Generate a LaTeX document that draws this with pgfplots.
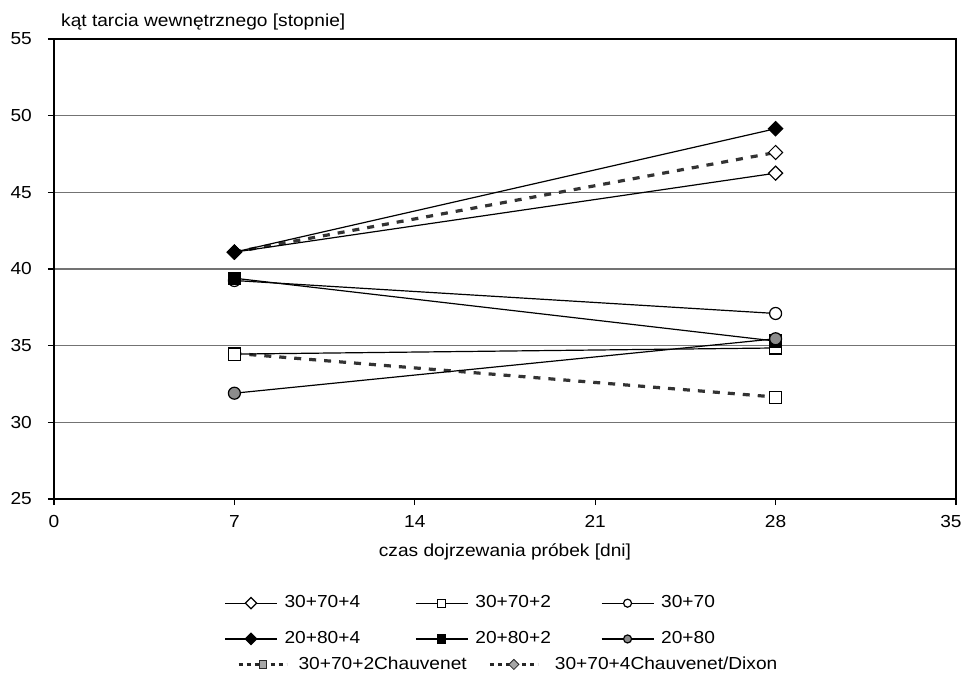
\documentclass[border=0pt]{standalone}
\usepackage{fontspec}
\setmainfont{Liberation Sans}[FakeStretch=1.1]
\usepackage{pgfplots}
\pgfplotsset{compat=1.18}
\begin{document}
\fontsize{8.7pt}{10.4pt}\selectfont
\begin{tikzpicture}
\useasboundingbox (-27pt,-88.5pt) rectangle (455pt,249.5pt);
\begin{axis}[
 scale only axis, width=451pt, height=230pt,
 at={(0pt,0pt)}, anchor=south west,
 xmin=0,xmax=35,ymin=25,ymax=55,
 xtick={0,7,14,21,28,35}, ytick={25,30,35,40,45,50,55},
 xticklabels={0,7,14,21,28,\hspace*{-5pt}35},
 xtick pos=bottom, ytick pos=left,
 tick align=outside, major tick length=3pt,
 tick style={black, line width=0.6pt},
 ymajorgrids, grid style={black!55, line width=0.7pt},
 axis line style={black, line width=0.8pt},
 font=\fontsize{8.7pt}{10.4pt}\selectfont,
 /pgf/number format/assume math mode=true,
 yticklabel style={xshift=-5pt},
 xticklabel style={yshift=-2pt},
 title={kąt tarcia wewnętrznego [stopnie]},
 title style={at={(rel axis cs:0,1)}, anchor=base west, xshift=0.5pt, yshift=0.2pt},
 xlabel={czas dojrzewania próbek [dni]},
 xlabel style={at={(rel axis cs:0.5,0)}, anchor=north, yshift=-19pt},
 legend columns=3,
 legend cell align=left,
 legend style={at={(rel axis cs:0,0)}, anchor=north west, xshift=82pt, yshift=-44.2pt,
   draw=none, fill=none, row sep=6.5pt,
   /tikz/every odd column/.append style={column sep=1.5pt},
   /tikz/every even column/.append style={column sep=20pt}},
 legend image code/.code={\draw[#1, mark size=2pt, mark repeat=2, mark phase=2] plot coordinates {(0pt,0pt) (13pt,0pt) (26pt,0pt)};},
 every axis plot/.append style={black, line width=0.6pt, mark size=3pt, mark options={solid, line width=0.5pt}},
]
\addplot[black!80, line width=1.6pt, dash pattern=on 3.5pt off 4pt, mark=square*, mark options={solid, draw=black, fill=white, line width=0.5pt}, forget plot] coordinates {(7,34.5) (28,31.65)};
\addplot[black!80, line width=1.6pt, dash pattern=on 3.5pt off 4pt, mark=square*, mark size=2.5pt, mark options={solid, draw=black, fill=white, line width=0.5pt, rotate=45}, forget plot] coordinates {(7,41.1) (28,47.6)};
\addplot[mark=square*, mark size=2.5pt, mark options={fill=white, rotate=45}] coordinates {(7,41.1) (28,46.25)};
\addlegendentry{30+70+4\hspace*{5.5pt}}
\addplot[mark=square*, mark options={fill=white}] coordinates {(7,34.45) (28,34.85)};
\addlegendentry{30+70+2\hspace*{3pt}}
\addplot[mark=*, mark options={fill=white}] coordinates {(7,39.25) (28,37.1)};
\addlegendentry{30+70}
\addplot[mark=square*, mark size=2.5pt, mark options={fill=black, rotate=45}] coordinates {(7,41.1) (28,49.15)};
\addlegendentry{20+80+4}
\addplot[mark=square*, mark options={fill=black}] coordinates {(7,39.4) (28,35.3)};
\addlegendentry{20+80+2}
\addplot[mark=*, mark options={fill=black!45}] coordinates {(7,31.9) (28,35.45)};
\addlegendentry{20+80}
\end{axis}
\begin{axis}[
 scale only axis, width=451pt, height=230pt,
 at={(0pt,0pt)}, anchor=south west,
 hide axis, xmin=0,xmax=1,ymin=0,ymax=1,
 font=\fontsize{8.7pt}{10.4pt}\selectfont,
 legend columns=2,
 legend cell align=left,
 legend style={at={(rel axis cs:0,0)}, anchor=north west, xshift=88.5pt, yshift=-74.7pt,
   draw=none, fill=none,
   /tikz/every odd column/.append style={column sep=3.5pt},
   /tikz/every even column/.append style={column sep=9pt}},
 legend image code/.code={\draw[#1, mark size=1.8pt, mark repeat=2, mark phase=2] plot coordinates {(0pt,0pt) (12pt,0pt) (24pt,0pt)};},
]
\addlegendimage{black!85, line width=1.1pt, dash pattern=on 2pt off 2pt, mark=square*, mark options={solid, fill=black!35, line width=0.4pt}}
\addlegendentry{30+70+2Chauvenet}
\addlegendimage{black!85, line width=1.1pt, dash pattern=on 2pt off 2pt, mark=square*, mark size=1.4pt, mark options={solid, fill=black!35, line width=0.4pt, rotate=45}}
\addlegendentry{\hspace*{2.5pt}30+70+4Chauvenet/Dixon}
\end{axis}
\end{tikzpicture}
\end{document}
